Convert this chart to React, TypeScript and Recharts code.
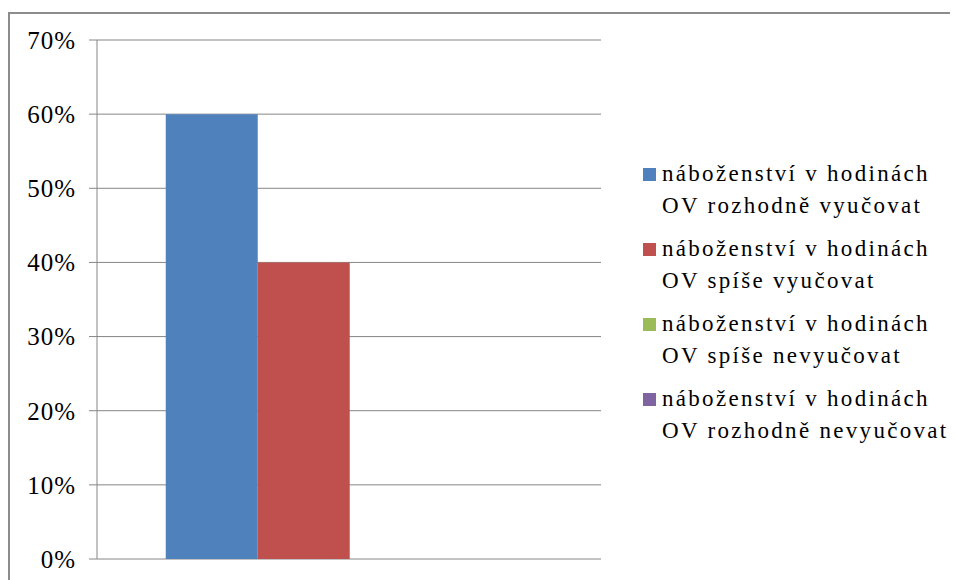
import { BarChart, Bar, XAxis, YAxis, CartesianGrid, Legend } from 'recharts';

const categories = [''];
const seriesNames = [
  'náboženství v hodinách OV rozhodně vyučovat',
  'náboženství v hodinách OV spíše vyučovat',
  'náboženství v hodinách OV spíše nevyučovat',
  'náboženství v hodinách OV rozhodně nevyučovat',
];
const seriesValues = [0.6, 0.4, 0, 0];
const yTicks = [0, 0.1, 0.2, 0.3, 0.4, 0.5, 0.6, 0.7];

const colors = ['#4F81BD', '#C0504D', '#9BBB59', '#8064A2'];
const keys = ['s0', 's1', 's2', 's3'];

const data = categories.map((name) => {
  const row: Record<string, any> = { name };
  keys.forEach((k, i) => {
    row[k] = seriesValues[i];
  });
  return row;
});

const serif = "'Liberation Serif', 'Times New Roman', Times, 'DejaVu Serif', serif";

const LegendBox = () => (
  <div
    style={{
      width: 320,
      textAlign: 'left',
      fontFamily: serif,
      fontSize: 23,
      letterSpacing: 2.3,
      lineHeight: '32px',
      color: '#000',
    }}
  >
    {seriesNames.map((name, i) => (
      <div key={i} style={{ position: 'relative', height: 75, paddingLeft: 19 }}>
        <span
          style={{
            position: 'absolute',
            left: 0,
            top: 10,
            width: 13,
            height: 13,
            background: colors[i],
          }}
        />
        <div style={{ width: 296 }}>{name}</div>
      </div>
    ))}
  </div>
);

export default function App() {
  return (
    <div style={{ paddingTop: 4 }}>
      <style>{'body{overflow:hidden}'}</style>
      <div
        style={{
          width: 948,
          height: 580,
          borderTop: '2px solid #8c8c8c',
          borderLeft: '2px solid #8c8c8c',
          overflow: 'hidden',
          background: '#fff',
        }}
      >
        <BarChart
          width={946}
          height={580}
          data={data}
          margin={{ top: 26, right: 35, bottom: 35, left: 0 }}
          barCategoryGap="13.64%"
          barGap={0}
        >
          <CartesianGrid vertical={false} stroke="#868686" strokeWidth={1} />
          <XAxis dataKey="name" hide />
          <YAxis
            domain={[0, 0.7]}
            ticks={yTicks}
            width={87}
            interval={0}
            tickFormatter={(v: number) => `${Math.round(v * 100)}%`}
            tickSize={8}
            tickMargin={13}
            axisLine={{ stroke: '#868686' }}
            tickLine={{ stroke: '#868686' }}
            tick={{ fill: '#000', fontSize: 25, fontFamily: serif, letterSpacing: 1 }}
          />
          <Legend
            layout="vertical"
            align="right"
            verticalAlign="top"
            content={() => <LegendBox />}
            wrapperStyle={{ left: 633, top: 144, width: 320 }}
          />
          {keys.map((k, i) => (
            <Bar key={k} dataKey={k} name={seriesNames[i]} fill={colors[i]} isAnimationActive={false} />
          ))}
        </BarChart>
      </div>
    </div>
  );
}
